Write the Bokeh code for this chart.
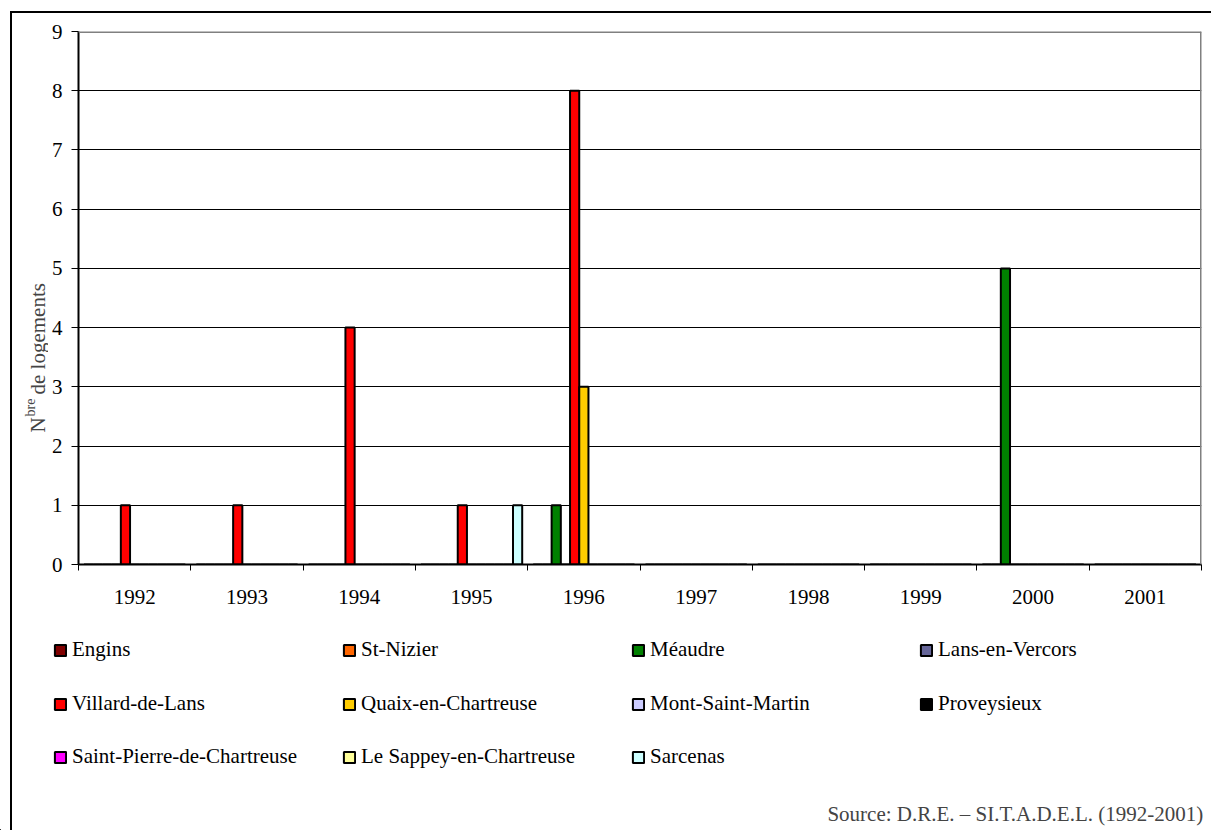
import numpy as np
from bokeh.plotting import figure
from bokeh.models import Range1d, FixedTicker, Label, Legend, LegendItem, Span
from bokeh.layouts import row, column
from bokeh.embed import file_html
from bokeh.resources import INLINE

# ---------------- data ----------------
years = ["1992", "1993", "1994", "1995", "1996", "1997", "1998", "1999", "2000", "2001"]
series_names = ["Engins", "St-Nizier", "Méaudre", "Lans-en-Vercors", "Villard-de-Lans",
                "Quaix-en-Chartreuse", "Mont-Saint-Martin", "Proveysieux",
                "Saint-Pierre-de-Chartreuse", "Le Sappey-en-Chartreuse", "Sarcenas"]
series_colors = ["#800000", "#FF6600", "#008000", "#666699", "#FF0000", "#FFCC00",
                 "#CCCCFF", "#000000", "#FF00FF", "#FFFF99", "#CCFFFF"]
engins     = [0, 0, 0, 0, 0, 0, 0, 0, 0, 0]
st_nizier  = [0, 0, 0, 0, 0, 0, 0, 0, 0, 0]
meaudre    = [0, 0, 0, 0, 1, 0, 0, 0, 5, 0]
lans       = [0, 0, 0, 0, 0, 0, 0, 0, 0, 0]
villard    = [1, 1, 4, 1, 8, 0, 0, 0, 0, 0]
quaix      = [0, 0, 0, 0, 3, 0, 0, 0, 0, 0]
mont_st_martin = [0, 0, 0, 0, 0, 0, 0, 0, 0, 0]
proveysieux    = [0, 0, 0, 0, 0, 0, 0, 0, 0, 0]
st_pierre  = [0, 0, 0, 0, 0, 0, 0, 0, 0, 0]
sappey     = [0, 0, 0, 0, 0, 0, 0, 0, 0, 0]
sarcenas   = [0, 0, 0, 1, 0, 0, 0, 0, 0, 0]
y_ticks = [0, 1, 2, 3, 4, 5, 6, 7, 8, 9]
y_title_parts = ["N", "bre", "de logements"]
source_text = "Source: D.R.E. \u2013  SI.T.A.D.E.L. (1992-2001)"

series_values = [engins, st_nizier, meaudre, lans, villard, quaix,
                 mont_st_martin, proveysieux, st_pierre, sappey, sarcenas]

FONT = "Liberation Serif"
FS = "21px"

TOTAL_W, TOTAL_H = 1211, 830
LEFT_W = 48
TOP_H = 625


def blank_fig(w, h):
    f = figure(width=w, height=h, output_backend="svg", toolbar_location=None,
               x_axis_type=None, y_axis_type=None, x_range=Range1d(0, 1),
               y_range=Range1d(0, 1), title=None)
    f.min_border = 0
    f.outline_line_color = None
    f.background_fill_color = None
    f.border_fill_color = None
    return f


# ---------------- main chart ----------------
p = figure(width=TOTAL_W - LEFT_W, height=TOP_H, output_backend="svg", toolbar_location=None,
           x_range=Range1d(0, len(years)), y_range=Range1d(0, 9), title=None)
p.min_border = 0
p.min_border_left = 77 - LEFT_W
p.min_border_right = 10
p.min_border_top = 31
p.min_border_bottom = 61
p.outline_line_color = None
p.border_fill_color = None
p.background_fill_color = None

n = len(series_names)
bar_w = 0.082
centers = np.arange(len(years)) + 0.5
for i, (name, vals, col) in enumerate(zip(series_names, series_values, series_colors)):
    xs = centers + (i - (n - 1) / 2) * bar_w
    p.vbar(x=xs, top=vals, bottom=0, width=bar_w, fill_color=col,
           line_color="black", line_width=2)

p.xgrid.visible = False
p.ygrid.ticker = FixedTicker(ticks=y_ticks[1:-1])
p.ygrid.grid_line_color = "black"
p.ygrid.grid_line_width = 1

p.add_layout(Span(location=9, dimension="width", line_color="#808080", line_width=3))
p.add_layout(Span(location=len(years), dimension="height", line_color="#808080", line_width=3))

ya = p.yaxis[0]
ya.ticker = FixedTicker(ticks=y_ticks)
ya.major_tick_out = 7
ya.major_tick_in = 0
ya.minor_tick_line_color = None
ya.axis_line_color = "black"
ya.axis_line_width = 2
ya.major_tick_line_color = "black"
ya.major_label_text_font = FONT
ya.major_label_text_font_size = FS
ya.major_label_text_color = "black"
ya.major_label_standoff = 9

xa = p.xaxis[0]
xa.ticker = FixedTicker(ticks=list(centers), minor_ticks=list(range(len(years) + 1)))
xa.major_label_overrides = {float(c): y for c, y in zip(centers, years)}
xa.major_tick_line_color = None
xa.major_tick_out = 0
xa.major_tick_in = 0
xa.minor_tick_line_color = "black"
xa.minor_tick_out = 6
xa.minor_tick_in = 0
xa.axis_line_color = "black"
xa.axis_line_width = 2
xa.major_label_text_font = FONT
xa.major_label_text_font_size = FS
xa.major_label_text_color = "black"
xa.major_label_standoff = 19

# ---------------- y title (left strip; its frame is aligned with the chart's) ----------------
pl = blank_fig(LEFT_W, TOP_H)
pl.add_layout(Label(x=37, y=132, x_units="screen", y_units="screen", text=y_title_parts[0],
                    angle=np.pi / 2, text_font=FONT, text_font_size=FS,
                    text_align="left", text_baseline="alphabetic"))
pl.add_layout(Label(x=30, y=148, x_units="screen", y_units="screen", text=y_title_parts[1],
                    angle=np.pi / 2, text_font=FONT, text_font_size="14px",
                    text_align="left", text_baseline="alphabetic"))
pl.add_layout(Label(x=37, y=170, x_units="screen", y_units="screen", text=y_title_parts[2],
                    angle=np.pi / 2, text_font=FONT, text_font_size=FS,
                    text_align="left", text_baseline="alphabetic"))

# ---------------- legend + source (bottom strip) ----------------
pb = blank_fig(TOTAL_W, TOTAL_H - TOP_H)
legend_rend = []
for name, col in zip(series_names, series_colors):
    # off-range placeholder renderer, only used to draw the legend swatch
    legend_rend.append(pb.vbar(x=[-5], top=[0], bottom=[0], width=0.1, fill_color=col,
                               line_color="black", line_width=2))

col_x = [53, 342, 631, 919]
row_center = [180, 126, 73]
for i, name in enumerate(series_names):
    r, c = divmod(i, 4)
    leg = Legend(items=[LegendItem(label=name, renderers=[legend_rend[i]])],
                 location=(col_x[c], row_center[r] - 12), orientation="vertical",
                 glyph_width=14, glyph_height=14, label_standoff=5, spacing=0,
                 padding=0, margin=0, border_line_color=None,
                 background_fill_alpha=0, label_height=24,
                 label_text_font=FONT, label_text_font_size=FS,
                 label_text_color="black")
    pb.add_layout(leg)

pb.add_layout(Label(x=1208, y=17, x_units="screen", y_units="screen", text=source_text,
                    text_font=FONT, text_font_size=FS, text_align="right",
                    text_baseline="middle"))

root = column(row(pl, p, spacing=0), pb, spacing=0)
root.styles = {
    "background-image": "linear-gradient(#000,#000), linear-gradient(#000,#000)",
    "background-position": "10px 11px, 10px 11px",
    "background-size": "2px 100%, 100% 2px",
    "background-repeat": "no-repeat",
}

open("out.html", "w").write(file_html(root, INLINE))
